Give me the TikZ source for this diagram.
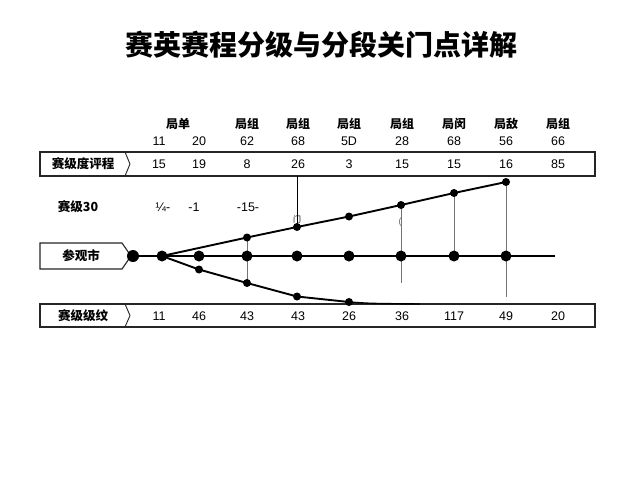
\documentclass[tikz,border=0pt]{standalone}
\usepackage{fontspec}
\setmainfont{Liberation Sans}
\newfontfamily\cjk{Noto Sans CJK SC}
\usetikzlibrary{calc}
\begin{document}
\begin{tikzpicture}[x=1pt,y=-1pt,
  num/.style={font=\fontsize{12.5}{12.5}\selectfont, inner sep=0pt},
  hdr/.style={font=\cjk\bfseries\fontsize{12}{12}\selectfont, inner sep=0pt},
  lbl/.style={font=\cjk\bfseries\fontsize{12.5}{12.5}\selectfont, inner sep=0pt},
  band/.style={draw=black!85, line width=1.1pt},
  mainline/.style={line width=2.4pt},
  branch/.style={line width=1.9pt},
  guide/.style={draw=black!55, line width=1pt},
  bigdot/.style={circle, fill=black, inner sep=0pt, minimum size=11pt},
  smalldot/.style={circle, fill=black, inner sep=0pt, minimum size=8pt}
]
\useasboundingbox (0,0) rectangle (640,480);
\fill[white] (0,0) rectangle (640,480);

% title
\node[font=\cjk\bfseries\fontsize{28}{28}\selectfont, inner sep=0pt] (title) at (321,45) {赛英赛程分级与分段关门点详解};

% header rows
\node[hdr] (h1) at (178,124) {局单};
\node[hdr] (h3) at (247,124) {局组};
\node[hdr] (h4) at (298,124) {局组};
\node[hdr] (h5) at (349,124) {局组};
\node[hdr] (h6) at (402,124) {局组};
\node[hdr] (h7) at (454,124) {局闵};
\node[hdr] (h8) at (506,124) {局敌};
\node[hdr] (h9) at (558,124) {局组};

\foreach \x/\t [count=\i] in {159/11,199/20,247/62,298/68,349/5D,402/28,454/68,506/56,558/66}
  \node[num] (n\i) at (\x,141) {\t};

% top band
\draw[band] (40,152) rectangle (595,176);
\draw[band, line width=0.9pt] (125,152) -- (130,164) -- (125,176);
\node[lbl] (toplbl) at (83,164) {赛级度评程};
\foreach \x/\t [count=\i] in {159/15,199/19,247/8,298/26,349/3,402/15,454/15,506/16,558/85}
  \node[num] (t\i) at (\x,164) {\t};

% row of notes
\node[lbl] (rowlbl) at (78,207) {赛级30};
\node[num] (r1) at (163,207) {¼-};
\node[num] (r2) at (194,207) {-1};
\node[num] (r3) at (248,207) {-15-};

% bottom band
\draw[band] (40,304) rectangle (595,327);
\draw[band, line width=0.9pt] (125,304) -- (130,315.5) -- (125,327);
\node[lbl] (botlbl) at (83,316) {赛级级纹};
\foreach \x/\t [count=\i] in {159/11,199/46,247/43,298/43,349/26,402/36,454/117,506/49,558/20}
  \node[num] (b\i) at (\x,316) {\t};

% middle label pentagon
\draw[band, fill=white] (40,243) -- (122,243) -- (131,256) -- (122,269) -- (40,269) -- cycle;
\node[lbl] (midlbl) at (81,256) {参观市};

% main line coordinates
\coordinate (mend) at (555,256);
\coordinate (m0) at (133,256);
\foreach \x [count=\i] in {162,199,247,297,349,401,454,506}
  \coordinate (m\i) at (\x,256);

% upper branch
\coordinate (u3) at (247,237.5);
\coordinate (u4) at (297,227);
\coordinate (u5) at (349,216.5);
\coordinate (u6) at (401,205);
\coordinate (u7) at (454,193);
\coordinate (u8) at (506,182);
% lower branch
\coordinate (l2) at (199,269.5);
\coordinate (l3) at (247,283);
\coordinate (l4) at (297,296.5);
\coordinate (l5) at (349,302);
\coordinate (lend) at (420,304);
\coordinate (topb) at (297,176);

% guide lines
\draw[guide] (u3) -- (l3);
\draw[black, line width=0.9pt] (topb) -- (u4);
\draw[guide] (u6) -- (401,283);
\draw[guide] (u7) -- (m7);
\draw[guide] (u8) -- (506,297);

% lines
\draw[mainline] (m0) -- (mend);
\draw[branch] (m1) -- (u3) -- (u4) -- (u5) -- (u6) -- (u7) -- (u8);
\draw[branch] (m1) -- (l2) -- (l3) -- (l4) -- (l5);
\draw[line width=1.4pt] (l5) .. controls (370,303.5) .. (lend);

% dots
\node[bigdot, minimum size=12pt] (d0) at (m0) {};
\foreach \i in {1,...,8} \node[bigdot] (d\i) at (m\i) {};
\foreach \i in {3,...,8} \node[smalldot] (du\i) at (u\i) {};
\foreach \i in {2,...,5} \node[smalldot] (dl\i) at (l\i) {};

% small marks
\node[font=\cjk\itshape\fontsize{8}{8}\selectfont, inner sep=0pt] (mk1) at (297,219) {门};
\node[font=\fontsize{9}{9}\selectfont, inner sep=0pt, text=black!60] (mk2) at (400,222) {(};
\end{tikzpicture}
\end{document}
